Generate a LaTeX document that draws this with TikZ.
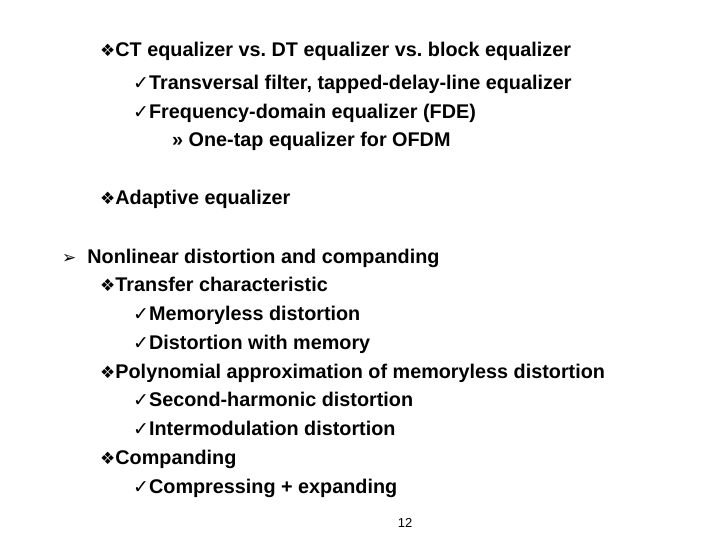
\documentclass[tikz,border=0pt]{standalone}
\usepackage{fontspec}
\setmainfont{Liberation Sans}
\newfontfamily\sym{DejaVu Sans}
\frenchspacing
\begin{document}
\begin{tikzpicture}[x=1pt,y=-1pt,
  t/.style={anchor=base west,inner sep=0pt,font=\fontsize{19.8}{22}\selectfont\bfseries}]
\useasboundingbox[fill=white] (0,0) rectangle (720,540);
\newcommand{\dia}{{\sym\fontsize{17}{17}\selectfont ❖}}
\newcommand{\chk}{{\sym\fontsize{19}{19}\selectfont ✓}}
\node[t] (a1) at (100,57) {\dia CT equalizer vs. DT equalizer vs. block equalizer};
\node[t] (a2) at (133,90) {\chk Transversal filter, tapped-delay-line equalizer};
\node[t] (a3) at (133,119) {\chk Frequency-domain equalizer (FDE)};
\node[t] (a4) at (172,147) {» One-tap equalizer for OFDM};
\node[t] (a5) at (100,205) {\dia Adaptive equalizer};
\node[t] (b1) at (62,263) {{\sym\fontsize{17}{17}\selectfont ➢}\ \ Nonlinear distortion and companding};
\node[t] (b2) at (100,291) {\dia Transfer characteristic};
\node[t] (b3) at (133,320) {\chk Memoryless distortion};
\node[t] (b4) at (133,349) {\chk Distortion with memory};
\node[t] (b5) at (100,378) {\dia Polynomial approximation of memoryless distortion};
\node[t] (b6) at (133,406) {\chk Second-harmonic distortion};
\node[t] (b7) at (133,435) {\chk Intermodulation distortion};
\node[t] (b8) at (100,464) {\dia Companding};
\node[t] (b9) at (133,493) {\chk Compressing + expanding};
\node[inner sep=0pt,font=\fontsize{13}{14}\selectfont] (pg) at (405,523) {12};
\end{tikzpicture}
\end{document}
